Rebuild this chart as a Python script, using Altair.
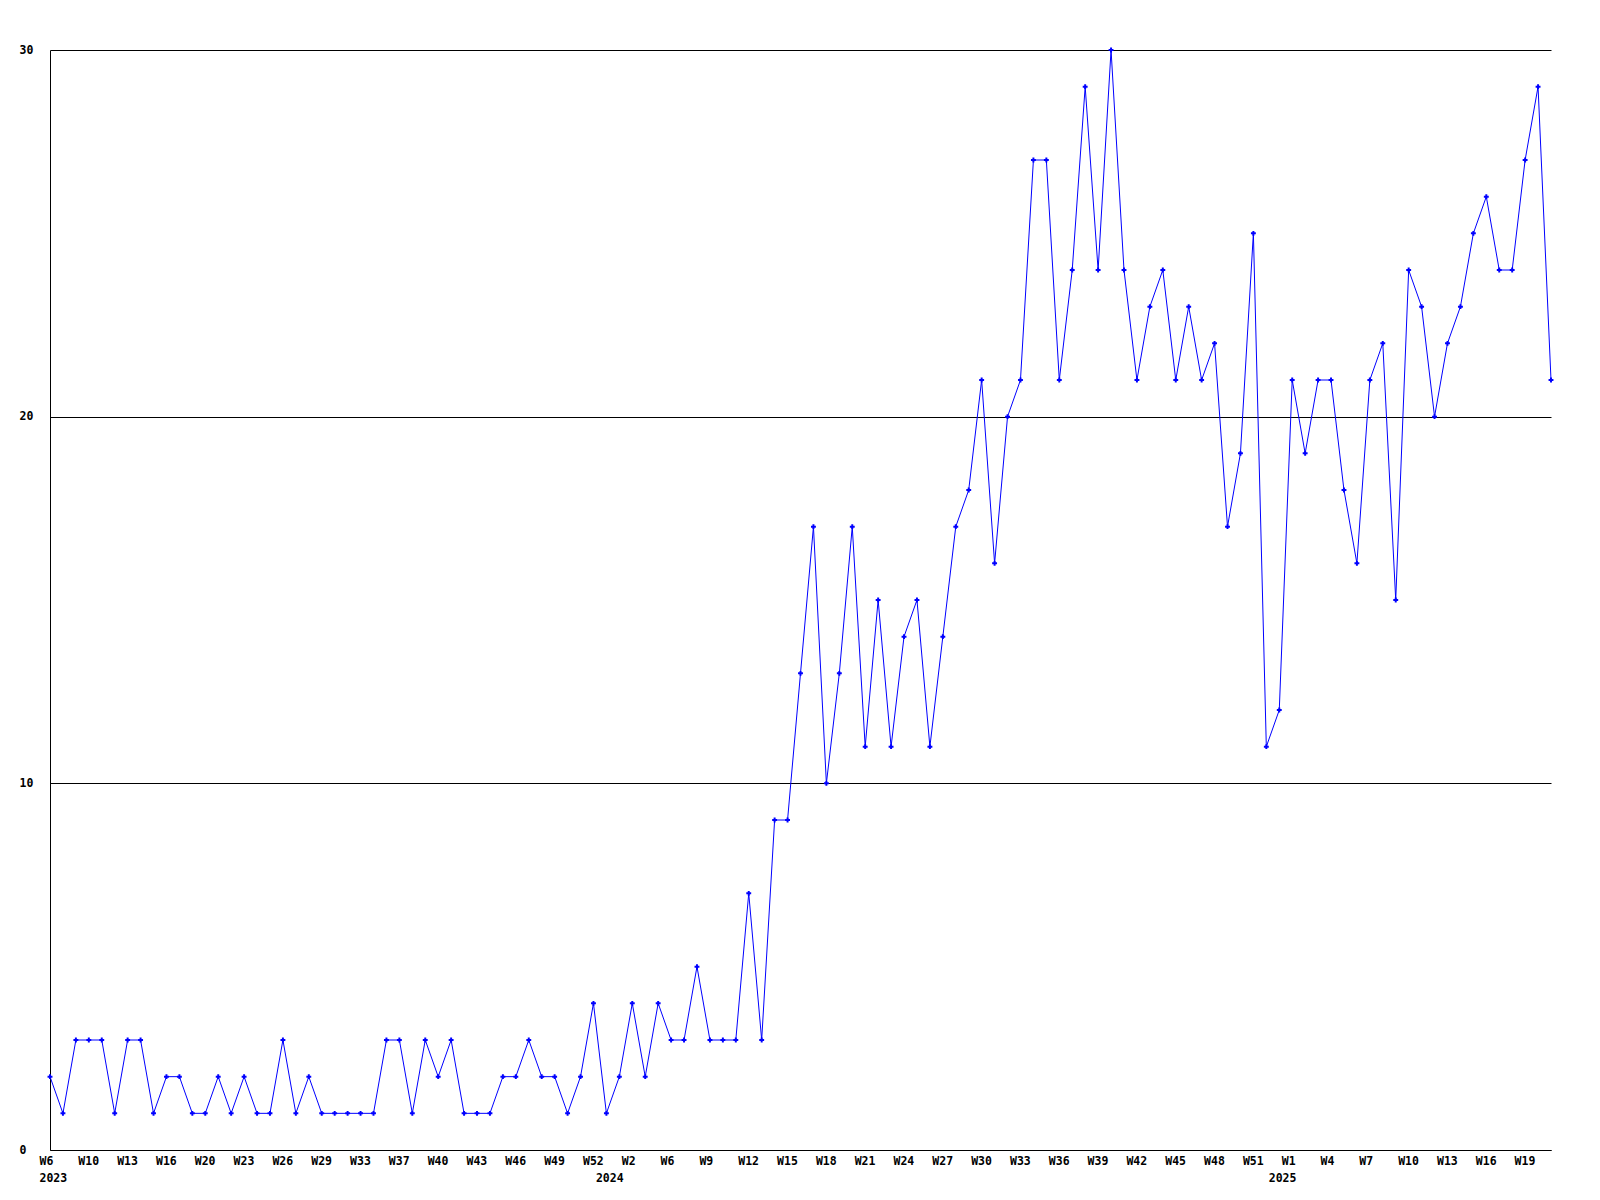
import altair as alt
import pandas as pd

values = [2, 1, 3, 3, 3, 1, 3, 3, 1, 2, 2, 1, 1, 2, 1, 2, 1, 1, 3, 1,
          2, 1, 1, 1, 1, 1, 3, 3, 1, 3, 2, 3, 1, 1, 1, 2, 2, 3, 2, 2,
          1, 2, 4, 1, 2, 4, 2, 4, 3, 3, 5, 3, 3, 3, 7, 3, 9, 9, 13, 17,
          10, 13, 17, 11, 15, 11, 14, 15, 11, 14, 17, 18, 21, 16, 20, 21, 27, 27, 21, 24,
          29, 24, 30, 24, 21, 23, 24, 21, 23, 21, 22, 17, 19, 25, 11, 12, 21, 19, 21, 21,
          18, 16, 21, 22, 15, 24, 23, 20, 22, 23, 25, 26, 24, 24, 27, 29, 21]

week_labels = ["W6", "W10", "W13", "W16", "W20", "W23", "W26", "W29", "W33", "W37",
               "W40", "W43", "W46", "W49", "W52", "W2", "W6", "W9", "W12", "W15",
               "W18", "W21", "W24", "W27", "W30", "W33", "W36", "W39", "W42", "W45",
               "W48", "W51", "W1", "W4", "W7", "W10", "W13", "W16", "W19"]
label_step = 3

years = ["2023", "2024", "2025"]
year_start_index = [0, 43, 95]

df = pd.DataFrame({"i": list(range(len(values))), "v": values})
wdf = pd.DataFrame({"i": [k * label_step for k in range(len(week_labels))],
                    "lab": week_labels})
ydf = pd.DataFrame({"i": year_start_index, "year": years})

FONT = "DejaVu Sans Mono"
FS = 11.5
W, H = 1501, 1100

xscale = alt.Scale(domain=[0, len(values) - 1], nice=False, zero=False)
yscale = alt.Scale(domain=[0, 30], nice=False)

xaxis = alt.Axis(labels=False, grid=False, ticks=False, tickSize=0, title=None,
                 domainColor="black", domainWidth=1)
yaxis = alt.Axis(values=[0, 10, 20, 30], grid=True, gridColor="black",
                 gridOpacity=1, gridWidth=1, ticks=False, tickSize=0,
                 title=None, labelAlign="left", labelPadding=31,
                 labelBaseline="middle", labelFont=FONT, labelFontWeight="bold",
                 labelFontSize=FS, labelColor="black", labelFlush=False,
                 domainColor="black", domainWidth=1)

base = alt.Chart(df)
line = base.mark_line(color="#0000ff", strokeWidth=1).encode(
    x=alt.X("i:Q", scale=xscale, axis=xaxis),
    y=alt.Y("v:Q", scale=yscale, axis=yaxis),
)
pts = base.mark_point(shape="cross", filled=True, size=24, color="#0000ff", opacity=1).encode(
    x=alt.X("i:Q", scale=xscale),
    y=alt.Y("v:Q", scale=yscale),
)
wk = alt.Chart(wdf).mark_text(align="left", baseline="top", dx=-10.5, font=FONT,
                              fontWeight="bold", fontSize=FS, color="black").encode(
    x=alt.X("i:Q", scale=xscale),
    y=alt.value(H + 6),
    text="lab:N",
)
yr = alt.Chart(ydf).mark_text(align="left", baseline="top", dx=-10.5, font=FONT,
                              fontWeight="bold", fontSize=FS, color="black").encode(
    x=alt.X("i:Q", scale=xscale),
    y=alt.value(H + 23),
    text="year:N",
)

chart = alt.layer(line, pts, wk, yr).properties(
    width=W, height=H,
    autosize=alt.AutoSizeParams(type="none"),
    padding={"left": 42, "top": 42, "right": 41, "bottom": 42},
    background="white",
).configure_view(stroke=None)

chart.save("out.html", embed_options={"renderer": "svg", "actions": False})
